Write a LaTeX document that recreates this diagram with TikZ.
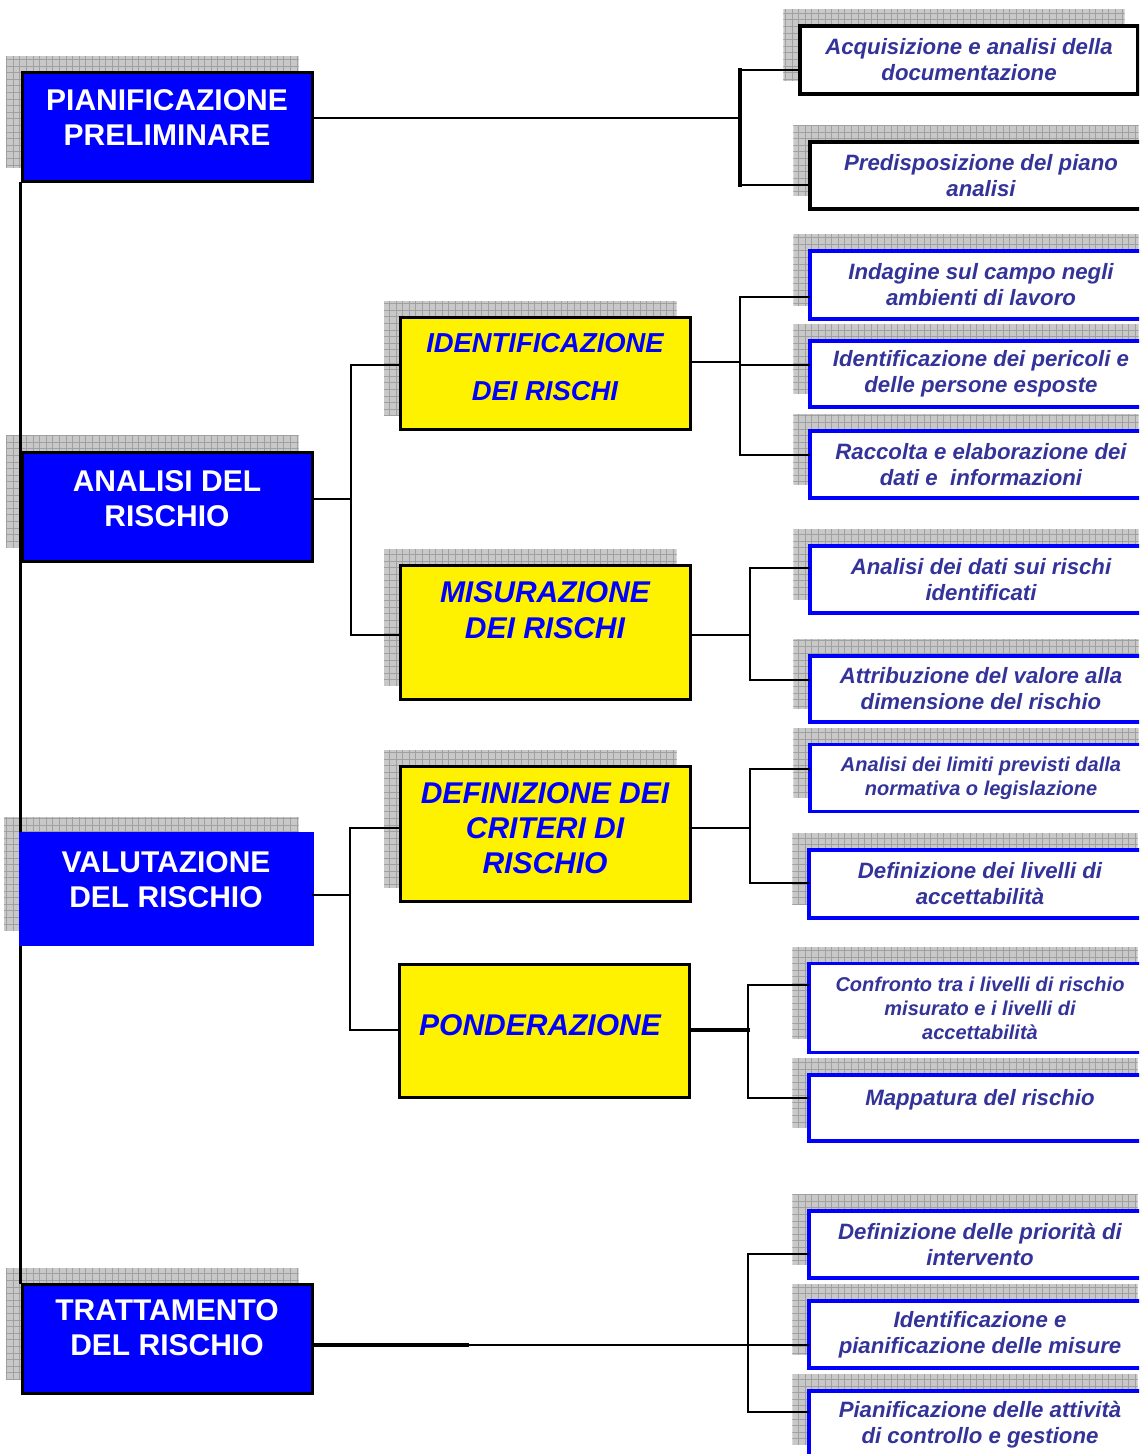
\documentclass[tikz,border=0pt]{standalone}
\usepackage{fontspec}
\setmainfont{Liberation Sans}
\usetikzlibrary{backgrounds}

\definecolor{taskblue}{HTML}{333399}
\definecolor{shadowgray}{HTML}{C8C8C8}
\definecolor{gridgray}{HTML}{A0A0A0}

\tikzset{
  mainbox/.style={draw=black, line width=1.5pt, fill=blue, inner sep=0pt,
    minimum width=145pt, minimum height=54.5pt},
  maintxt/.style={text=white, align=center, font=\fontsize{15}{17.5}\selectfont\bfseries},
  phasebox/.style={draw=black, line width=1.5pt, fill=yellow, inner sep=0pt,
    minimum width=145pt},
  phasetxt/.style={text=blue, align=center, font=\fontsize{15}{17.5}\selectfont\bfseries\itshape},
  taskbox/.style={draw=blue, line width=1.6pt, fill=white, inner sep=0pt,
    minimum width=171pt, minimum height=33.5pt, text=taskblue, align=center,
    font=\fontsize{11.1}{13}\selectfont\bfseries\itshape},
  smalltxt/.style={font=\fontsize{10}{12}\selectfont\bfseries\itshape},
  gridline/.style={gridgray, line width=0.35pt},
  link/.style={black, line width=1.4pt, line cap=rect},
}

\begin{document}
\begin{tikzpicture}[x=0.5pt,y=-0.5pt]
\useasboundingbox (0,0) rectangle (1139,1454);
\clip (0,0) rectangle (1139,1454);

% main phases
\node[mainbox, label={[maintxt,yshift=4.75pt]center:{PIANIFICAZIONE\\PRELIMINARE}}] (pian) at (167,127.5) {};
\node[mainbox, label={[maintxt,yshift=4pt]center:{ANALISI DEL\\RISCHIO}}] (anal) at (167,506.5) {};
\node[mainbox, draw=blue, minimum width=146pt, minimum height=55.5pt,
  label={[maintxt,yshift=4.5pt]center:{VALUTAZIONE\\DEL RISCHIO}}] (valu) at (166,888.5) {};
\node[mainbox, label={[maintxt,yshift=5.25pt]center:{TRATTAMENTO\\DEL RISCHIO}}] (tratt) at (167,1338.5) {};

% sub phases
\node[phasebox, minimum height=56pt,
  label={[phasetxt,font=\fontsize{13.7}{24}\selectfont\bfseries\itshape,yshift=3.5pt]center:{IDENTIFICAZIONE\\DEI RISCHI}}] (iden) at (545,374) {};
\node[phasebox, minimum height=67pt,
  label={[phasetxt,font=\fontsize{15}{18}\selectfont\bfseries\itshape,yshift=11pt]center:{MISURAZIONE\\DEI RISCHI}}] (misu) at (545,632) {};
\node[phasebox, minimum height=67.5pt,
  label={[phasetxt,yshift=2.5pt]center:{DEFINIZIONE DEI\\CRITERI DI\\RISCHIO}}] (defi) at (545,833.5) {};
\node[phasebox, minimum height=66.5pt,
  label={[phasetxt,xshift=-2pt,yshift=2.75pt]center:PONDERAZIONE}] (pond) at (544,1030.5) {};

% activities
\node[taskbox, draw=black, minimum width=169pt, minimum height=34pt] (acq) at (969,60) {Acquisizione e analisi della\\documentazione};
\node[taskbox, draw=black] (pre) at (981,175.5) {Predisposizione del piano\\analisi};
\node[taskbox, minimum height=34pt] (ind) at (981,285) {Indagine sul campo negli\\ambienti di lavoro};
\node[taskbox, minimum height=33pt] (idp) at (981,374) {Identificazione dei pericoli e\\delle persone esposte};
\node[taskbox] (rac) at (981,464.5) {Raccolta e elaborazione dei\\dati e\ \ informazioni};
\node[taskbox] (dati) at (981,579.5) {Analisi dei dati sui rischi\\identificati};
\node[taskbox, minimum height=33pt] (att) at (981,689) {Attribuzione del valore alla\\dimensione del rischio};
\node[taskbox, smalltxt] (anl) at (981,778) {Analisi dei limiti previsti dalla\\normativa o legislazione};
\node[taskbox, minimum height=34pt] (dli) at (980,884) {Definizione dei livelli di\\accettabilità};
\node[taskbox, smalltxt, minimum height=44.5pt] (con) at (980,1008) {Confronto tra i livelli di rischio\\misurato e i livelli di\\accettabilità};
\node[taskbox, minimum height=33pt,
  label={[text=taskblue,font=\fontsize{11.1}{13}\selectfont\bfseries\itshape,yshift=4pt]center:Mappatura del rischio}] (map) at (980,1108) {};
\node[taskbox] (dpr) at (980,1244.5) {Definizione delle priorità di\\intervento};
\node[taskbox] (ipm) at (980,1334.5) {Identificazione e\\pianificazione delle misure};
\node[taskbox] (pat) at (980,1424.5) {Pianificazione delle attività\\di controllo e gestione};

% grid shadows and left spine
\begin{scope}[on background layer]
\foreach \n in {pian,anal,valu,tratt,iden,misu,defi,acq,pre,ind,idp,rac,dati,att,anl,dli,con,map,dpr,ipm,pat}{
  \begin{scope}
    \coordinate (s1) at ([shift={(-15,-15)}]\n.south west);
    \coordinate (s2) at ([shift={(-15,-15)}]\n.north east);
    \clip (s1) rectangle (s2);
    \fill[shadowgray] (s1) rectangle (s2);
    \draw[gridline, step=3.3pt] (s1) grid (s2);
  \end{scope}
}
\draw[link] (pian.south west) -- (tratt.north west);
\end{scope}

% connectors
\foreach \p/\x/\y in {pian/740/118, anal/351/499, iden/740/362, misu/750/635,
    valu/350/895, defi/750/828, pond/748/1030, tratt/748/1345}{
  \coordinate (o\p) at (\x,\y);
  \draw[link] (\p.east |- o\p) -- (o\p);
}
\foreach \k/\x/\y in {acq/740/70, pre/740/185, iden/351/365, misu/351/635,
    ind/740/297, idp/740/365, rac/740/455, dati/750/568, att/750/680,
    defi/350/828, pond/350/1030, anl/750/769, dli/750/883,
    con/748/985, map/748/1098, dpr/748/1254, ipm/748/1345, pat/748/1412}{
  \coordinate (b\k) at (\x,\y);
  \draw[link] (b\k) -- (\k.west |- b\k);
}
\draw[link, line width=2pt] (bacq) -- (bpre);
\draw[link, line width=2pt] (pond.east |- opond) -- (opond);
\draw[link, line width=2pt] (tratt.east |- otratt) -- ++(153,0);
\draw[link] (biden) -- (bmisu);
\draw[link] (bind) -- (brac);
\draw[link] (bdati) -- (batt);
\draw[link] (bdefi) -- (bpond);
\draw[link] (banl) -- (bdli);
\draw[link] (bcon) -- (bmap);
\draw[link] (bdpr) -- (bpat);
\end{tikzpicture}
\end{document}
